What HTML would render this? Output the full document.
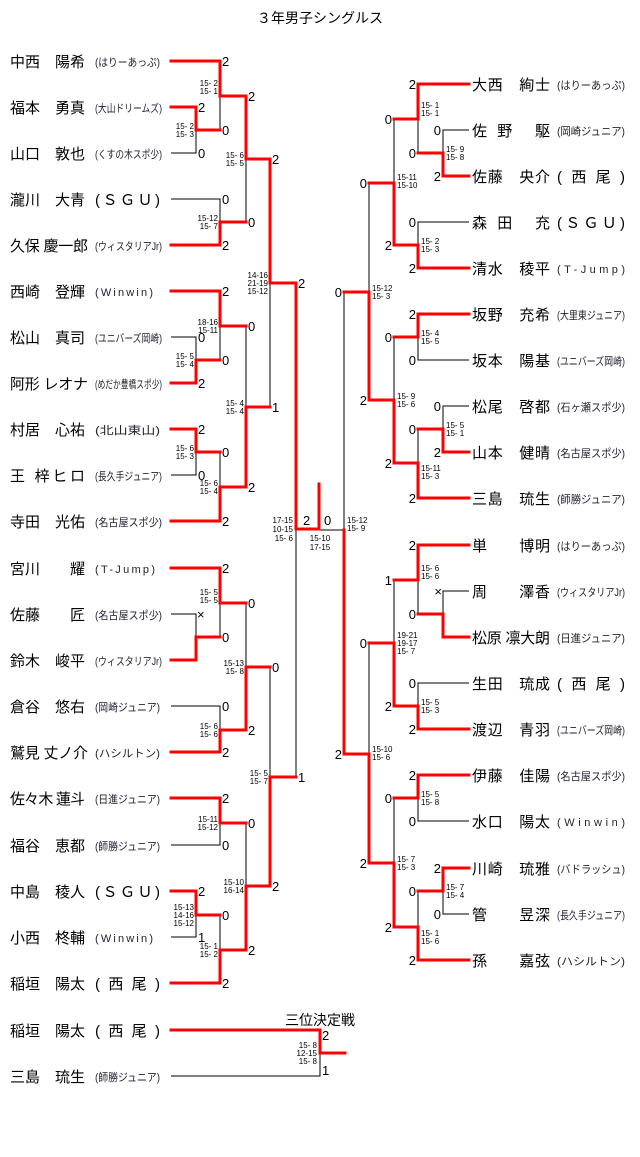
<!DOCTYPE html>
<html><head><meta charset="utf-8"><style>
html,body{margin:0;padding:0;background:#fff;}
svg{display:block;}
.n{font-family:"Liberation Sans","Noto Sans CJK JP",sans-serif;font-size:15px;fill:#000;}
.a{font-family:"Liberation Sans","Noto Sans CJK JP",sans-serif;font-size:11px;fill:#223;}
.d{font-family:"Liberation Sans",sans-serif;font-size:13px;fill:#000;}
.s{font-family:"Liberation Sans",sans-serif;font-size:8px;fill:#000;}
.r{fill:none;stroke:#f00;stroke-width:3;stroke-linecap:square;stroke-linejoin:miter;}
.b{fill:none;stroke:#000;stroke-width:1;}
</style></head><body>
<svg width="640" height="1157" viewBox="0 0 640 1157" xmlns="http://www.w3.org/2000/svg">
<text x="320" y="23" text-anchor="middle" class="n" style="font-size:14px">３年男子シングルス</text>

<!-- black lines -->
<path class="b" d="M171 153H196V130 M171 199H220V222 M220 130V96 M246 222V159 M171 337H196V360 M220 360V326 M171 475H196V452 M220 452V487 M246 326V407 M270 407V283 M171 614H196V637 M220 637V603 M171 706H220V730 M246 603V667 M171 845H220V823 M171 937H196V915 M220 915V950 M246 823V886 M270 667V777 M296 529V777
M469 130H443V153 M418 153V119 M469 222H418V245 M394 119V183 M469 360H418V337 M469 406H443V429 M418 429V463 M394 337V400 M369 183V292 M469 591H443V614 M418 614V580 M469 683H418V706 M394 580V643 M469 821H418V798 M469 914H443V891 M418 891V927 M394 798V863 M369 643V754 M344 292V530H319
M171 1076H320V1053"/>
<!-- red lines -->
<path class="r" d="M171 61H220V96H246V159H270V283H296V529H319V484 M171 107H196V130H220 M171 245H220V222H246 M171 291H220V326H246 M171 383H196V360H220 M171 429H196V452H220 M171 521H220V487H246V407H270 M171 568H220V603H246 M171 660H196V637H220 M171 752H220V730H246V667H270 M171 798H220V823H246 M171 891H196V915H220 M171 983H220V950H246V886H270V777H296
M469 84H418V119H394 M469 176H443V153H418 M469 268H418V245H394V183H369 M469 314H418V337H394 M469 452H443V429H418 M469 498H418V463H394V400H369V292H344 M469 545H418V580H394 M469 637H443V614H418 M469 729H418V706H394V643H369 M469 775H418V798H394 M469 868H443V891H418 M469 960H418V927H394V863H369V754H344V530
M171 1030H320V1053H345"/>

<!-- left names -->
<g class="n">
<text x="10" y="67" textLength="75" lengthAdjust="spacing">中西　陽希</text>
<text x="10" y="113" textLength="75" lengthAdjust="spacing">福本　勇真</text>
<text x="10" y="159" textLength="75" lengthAdjust="spacing">山口　敦也</text>
<text x="10" y="205" textLength="75" lengthAdjust="spacing">瀧川　大青</text>
<text x="10" y="251" textLength="78" lengthAdjust="spacing">久保 慶一郎</text>
<text x="10" y="297" textLength="75" lengthAdjust="spacing">西崎　登輝</text>
<text x="10" y="343" textLength="75" lengthAdjust="spacing">松山　真司</text>
<text x="10" y="389" textLength="78" lengthAdjust="spacing">阿形 レオナ</text>
<text x="10" y="435" textLength="75" lengthAdjust="spacing">村居　心祐</text>
<text x="10" y="481" textLength="75" lengthAdjust="spacing">王 梓ヒロ</text>
<text x="10" y="527" textLength="75" lengthAdjust="spacing">寺田　光佑</text>
<text x="10" y="574" textLength="75" lengthAdjust="spacing">宮川　　耀</text>
<text x="10" y="620" textLength="75" lengthAdjust="spacing">佐藤　　匠</text>
<text x="10" y="666" textLength="75" lengthAdjust="spacing">鈴木　峻平</text>
<text x="10" y="712" textLength="75" lengthAdjust="spacing">倉谷　悠右</text>
<text x="10" y="758" textLength="78" lengthAdjust="spacing">鷲見 丈ノ介</text>
<text x="10" y="804" textLength="75" lengthAdjust="spacing">佐々木 蓮斗</text>
<text x="10" y="851" textLength="75" lengthAdjust="spacing">福谷　恵都</text>
<text x="10" y="897" textLength="75" lengthAdjust="spacing">中島　稜人</text>
<text x="10" y="943" textLength="75" lengthAdjust="spacing">小西　柊輔</text>
<text x="10" y="989" textLength="75" lengthAdjust="spacing">稲垣　陽太</text>
<text x="10" y="1036" textLength="75" lengthAdjust="spacing">稲垣　陽太</text>
<text x="10" y="1082" textLength="75" lengthAdjust="spacing">三島　琉生</text>
</g>
<g class="a">
<text x="95" y="66" textLength="65" lengthAdjust="spacingAndGlyphs">(はりーあっぷ)</text>
<text x="95" y="112" textLength="67" lengthAdjust="spacingAndGlyphs">(大山ドリームズ)</text>
<text x="95" y="158" textLength="67" lengthAdjust="spacingAndGlyphs">(くすの木スポ少)</text>
<text x="95" y="205" class="n" textLength="65" lengthAdjust="spacing">(ＳＧＵ)</text>
<text x="95" y="250" textLength="67" lengthAdjust="spacingAndGlyphs">(ウィスタリアJr)</text>
<text x="95" y="296" textLength="58" lengthAdjust="spacing">(Winwin)</text>
<text x="95" y="342" textLength="67" lengthAdjust="spacingAndGlyphs">(ユニバーズ岡崎)</text>
<text x="95" y="388" textLength="67" lengthAdjust="spacingAndGlyphs">(めだか豊橋スポ少)</text>
<text x="95" y="434" textLength="65" lengthAdjust="spacingAndGlyphs">(北山東山)</text>
<text x="95" y="480" textLength="67" lengthAdjust="spacingAndGlyphs">(長久手ジュニア)</text>
<text x="95" y="526" textLength="67" lengthAdjust="spacingAndGlyphs">(名古屋スポ少)</text>
<text x="95" y="573" textLength="60" lengthAdjust="spacing">(T-Jump)</text>
<text x="95" y="619" textLength="67" lengthAdjust="spacingAndGlyphs">(名古屋スポ少)</text>
<text x="95" y="665" textLength="67" lengthAdjust="spacingAndGlyphs">(ウィスタリアJr)</text>
<text x="95" y="711" textLength="65" lengthAdjust="spacingAndGlyphs">(岡崎ジュニア)</text>
<text x="95" y="757" textLength="65" lengthAdjust="spacingAndGlyphs">(ハシルトン)</text>
<text x="95" y="803" textLength="65" lengthAdjust="spacingAndGlyphs">(日進ジュニア)</text>
<text x="95" y="850" textLength="65" lengthAdjust="spacingAndGlyphs">(師勝ジュニア)</text>
<text x="95" y="897" class="n" textLength="65" lengthAdjust="spacing">(ＳＧＵ)</text>
<text x="95" y="942" textLength="58" lengthAdjust="spacing">(Winwin)</text>
<text x="95" y="989" class="n" textLength="65" lengthAdjust="spacing">( 西 尾 )</text>
<text x="95" y="1036" class="n" textLength="65" lengthAdjust="spacing">( 西 尾 )</text>
<text x="95" y="1081" textLength="65" lengthAdjust="spacingAndGlyphs">(師勝ジュニア)</text>
</g>

<!-- right names -->
<g class="n">
<text x="472" y="90" textLength="78" lengthAdjust="spacing">大西　絢士</text>
<text x="472" y="136" textLength="78" lengthAdjust="spacing">佐　野　　駆</text>
<text x="472" y="182" textLength="78" lengthAdjust="spacing">佐藤　央介</text>
<text x="472" y="228" textLength="78" lengthAdjust="spacing">森　田　　充</text>
<text x="472" y="274" textLength="78" lengthAdjust="spacing">清水　稜平</text>
<text x="472" y="320" textLength="78" lengthAdjust="spacing">坂野　充希</text>
<text x="472" y="366" textLength="78" lengthAdjust="spacing">坂本　陽基</text>
<text x="472" y="412" textLength="78" lengthAdjust="spacing">松尾　啓都</text>
<text x="472" y="458" textLength="78" lengthAdjust="spacing">山本　健晴</text>
<text x="472" y="504" textLength="78" lengthAdjust="spacing">三島　琉生</text>
<text x="472" y="551" textLength="78" lengthAdjust="spacing">単　　博明</text>
<text x="472" y="597" textLength="78" lengthAdjust="spacing">周　　澤香</text>
<text x="472" y="643" textLength="78" lengthAdjust="spacing">松原 凛大朗</text>
<text x="472" y="689" textLength="78" lengthAdjust="spacing">生田　琉成</text>
<text x="472" y="735" textLength="78" lengthAdjust="spacing">渡辺　青羽</text>
<text x="472" y="781" textLength="78" lengthAdjust="spacing">伊藤　佳陽</text>
<text x="472" y="827" textLength="78" lengthAdjust="spacing">水口　陽太</text>
<text x="472" y="874" textLength="78" lengthAdjust="spacing">川崎　琉雅</text>
<text x="472" y="920" textLength="78" lengthAdjust="spacing">管　　昱深</text>
<text x="472" y="966" textLength="78" lengthAdjust="spacing">孫　　嘉弦</text>
</g>
<g class="a">
<text x="557" y="89" textLength="68" lengthAdjust="spacingAndGlyphs">(はりーあっぷ)</text>
<text x="557" y="135" textLength="68" lengthAdjust="spacingAndGlyphs">(岡崎ジュニア)</text>
<text x="557" y="182" class="n" textLength="68" lengthAdjust="spacing">( 西 尾 )</text>
<text x="557" y="228" class="n" textLength="68" lengthAdjust="spacing">(ＳＧＵ)</text>
<text x="557" y="273" textLength="68" lengthAdjust="spacing">(T-Jump)</text>
<text x="557" y="319" textLength="68" lengthAdjust="spacingAndGlyphs">(大里東ジュニア)</text>
<text x="557" y="365" textLength="68" lengthAdjust="spacingAndGlyphs">(ユニバーズ岡崎)</text>
<text x="557" y="411" textLength="68" lengthAdjust="spacingAndGlyphs">(石ヶ瀬スポ少)</text>
<text x="557" y="457" textLength="68" lengthAdjust="spacingAndGlyphs">(名古屋スポ少)</text>
<text x="557" y="503" textLength="68" lengthAdjust="spacingAndGlyphs">(師勝ジュニア)</text>
<text x="557" y="550" textLength="68" lengthAdjust="spacingAndGlyphs">(はりーあっぷ)</text>
<text x="557" y="596" textLength="68" lengthAdjust="spacingAndGlyphs">(ウィスタリアJr)</text>
<text x="557" y="642" textLength="68" lengthAdjust="spacingAndGlyphs">(日進ジュニア)</text>
<text x="557" y="689" class="n" textLength="68" lengthAdjust="spacing">( 西 尾 )</text>
<text x="557" y="734" textLength="68" lengthAdjust="spacingAndGlyphs">(ユニバーズ岡崎)</text>
<text x="557" y="780" textLength="68" lengthAdjust="spacingAndGlyphs">(名古屋スポ少)</text>
<text x="557" y="826" textLength="68" lengthAdjust="spacing">(Winwin)</text>
<text x="557" y="873" textLength="68" lengthAdjust="spacingAndGlyphs">(バドラッシュ)</text>
<text x="557" y="919" textLength="68" lengthAdjust="spacingAndGlyphs">(長久手ジュニア)</text>
<text x="557" y="965" textLength="68" lengthAdjust="spacingAndGlyphs">(ハシルトン)</text>
</g>

<!-- score digits left -->
<g class="d">
<text x="198" y="112">2</text><text x="198" y="158">0</text>
<text x="222" y="66">2</text><text x="222" y="135">0</text>
<text x="222" y="204">0</text><text x="222" y="250">2</text>
<text x="248" y="101">2</text><text x="248" y="227">0</text>
<text x="198" y="342">0</text><text x="198" y="388">2</text>
<text x="222" y="296">2</text><text x="222" y="365">0</text>
<text x="198" y="434">2</text><text x="198" y="480">0</text>
<text x="222" y="457">0</text><text x="222" y="526">2</text>
<text x="248" y="331">0</text><text x="248" y="492">2</text>
<text x="272" y="164">2</text><text x="272" y="412">1</text>
<text x="197" y="619">×</text>
<text x="222" y="573">2</text><text x="222" y="642">0</text>
<text x="222" y="711">0</text><text x="222" y="757">2</text>
<text x="248" y="608">0</text><text x="248" y="735">2</text>
<text x="222" y="803">2</text><text x="222" y="850">0</text>
<text x="198" y="896">2</text><text x="198" y="942">1</text>
<text x="222" y="920">0</text><text x="222" y="988">2</text>
<text x="248" y="828">0</text><text x="248" y="955">2</text>
<text x="272" y="672">0</text><text x="272" y="891">2</text>
<text x="298" y="288">2</text><text x="298" y="782">1</text>
<text x="303" y="525">2</text><text x="324" y="525">0</text>
<text x="322" y="1040">2</text><text x="322" y="1075">1</text>
</g>
<!-- score digits right -->
<g class="d" text-anchor="end">
<text x="441" y="135">0</text><text x="441" y="181">2</text>
<text x="416" y="89">2</text><text x="416" y="158">0</text>
<text x="416" y="227">0</text><text x="416" y="273">2</text>
<text x="392" y="124">0</text><text x="392" y="250">2</text>
<text x="416" y="319">2</text><text x="416" y="365">0</text>
<text x="441" y="411">0</text><text x="441" y="457">2</text>
<text x="416" y="434">0</text><text x="416" y="503">2</text>
<text x="392" y="342">0</text><text x="392" y="468">2</text>
<text x="367" y="188">0</text><text x="367" y="405">2</text>
<text x="442" y="596">×</text>
<text x="416" y="550">2</text><text x="416" y="619">0</text>
<text x="416" y="688">0</text><text x="416" y="734">2</text>
<text x="392" y="585">1</text><text x="392" y="711">2</text>
<text x="416" y="780">2</text><text x="416" y="826">0</text>
<text x="441" y="873">2</text><text x="441" y="919">0</text>
<text x="416" y="896">0</text><text x="416" y="965">2</text>
<text x="392" y="803">0</text><text x="392" y="932">2</text>
<text x="367" y="648">0</text><text x="367" y="868">2</text>
<text x="342" y="297">0</text><text x="342" y="759">2</text>
</g>

<!-- small scores left (end anchored) -->
<g class="s" text-anchor="end">
<text x="194" y="129">15- 2</text><text x="194" y="137">15- 3</text>
<text x="218" y="86">15- 2</text><text x="218" y="94">15- 1</text>
<text x="218" y="221">15-12</text><text x="218" y="229">15- 7</text>
<text x="244" y="158">15- 6</text><text x="244" y="166">15- 5</text>
<text x="218" y="325">18-16</text><text x="218" y="333">15-11</text>
<text x="194" y="359">15- 5</text><text x="194" y="367">15- 4</text>
<text x="244" y="406">15- 4</text><text x="244" y="414">15- 4</text>
<text x="194" y="451">15- 6</text><text x="194" y="459">15- 3</text>
<text x="218" y="486">15- 6</text><text x="218" y="494">15- 4</text>
<text x="268" y="278">14-16</text><text x="268" y="286">21-19</text><text x="268" y="294">15-12</text>
<text x="218" y="595">15- 5</text><text x="218" y="603">15- 5</text>
<text x="244" y="666">15-13</text><text x="244" y="674">15- 8</text>
<text x="218" y="729">15- 6</text><text x="218" y="737">15- 6</text>
<text x="268" y="776">15- 5</text><text x="268" y="784">15- 7</text>
<text x="218" y="822">15-11</text><text x="218" y="830">15-12</text>
<text x="244" y="885">15-10</text><text x="244" y="893">16-14</text>
<text x="194" y="910">15-13</text><text x="194" y="918">14-16</text><text x="194" y="926">15-12</text>
<text x="218" y="949">15- 1</text><text x="218" y="957">15- 2</text>
<text x="293" y="523">17-15</text><text x="293" y="532">10-15</text><text x="293" y="541">15- 6</text>
<text x="317" y="1048">15- 8</text><text x="317" y="1056">12-15</text><text x="317" y="1064">15- 8</text>
</g>
<!-- small scores right -->
<g class="s">
<text x="421" y="108">15- 1</text><text x="421" y="116">15- 1</text>
<text x="446" y="152">15- 9</text><text x="446" y="160">15- 8</text>
<text x="397" y="180">15-11</text><text x="397" y="188">15-10</text>
<text x="421" y="244">15- 2</text><text x="421" y="252">15- 3</text>
<text x="372" y="291">15-12</text><text x="372" y="299">15- 3</text>
<text x="421" y="336">15- 4</text><text x="421" y="344">15- 5</text>
<text x="397" y="399">15- 9</text><text x="397" y="407">15- 6</text>
<text x="446" y="428">15- 5</text><text x="446" y="436">15- 1</text>
<text x="421" y="471">15-11</text><text x="421" y="479">15- 3</text>
<text x="347" y="523">15-12</text><text x="347" y="531">15- 9</text>
<text x="421" y="571">15- 6</text><text x="421" y="579">15- 6</text>
<text x="397" y="638">19-21</text><text x="397" y="646">19-17</text><text x="397" y="654">15- 7</text>
<text x="421" y="705">15- 5</text><text x="421" y="713">15- 3</text>
<text x="372" y="752">15-10</text><text x="372" y="760">15- 6</text>
<text x="421" y="797">15- 5</text><text x="421" y="805">15- 8</text>
<text x="397" y="862">15- 7</text><text x="397" y="870">15- 3</text>
<text x="446" y="890">15- 7</text><text x="446" y="898">15- 4</text>
<text x="421" y="936">15- 1</text><text x="421" y="944">15- 6</text>
</g>
<g class="s" text-anchor="middle">
<text x="320" y="541">15-10</text><text x="320" y="550">17-15</text>
</g>
<text x="320" y="1025" text-anchor="middle" class="n" style="font-size:14px">三位決定戦</text>
</svg>
</body></html>
